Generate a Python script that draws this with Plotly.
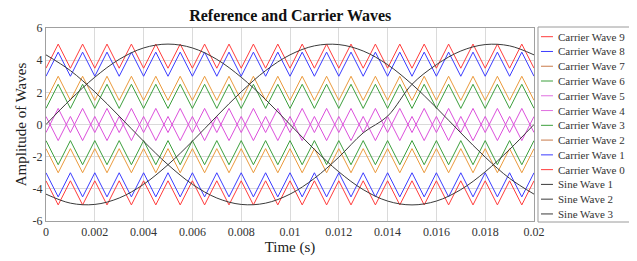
import plotly.graph_objects as go

# ---------------- data ----------------
carrier_names = ["Carrier Wave 9", "Carrier Wave 8", "Carrier Wave 7", "Carrier Wave 6",
                 "Carrier Wave 5", "Carrier Wave 4", "Carrier Wave 3", "Carrier Wave 2",
                 "Carrier Wave 1", "Carrier Wave 0"]
# value at t=0 and value half a carrier period later (triangle vertices)
carrier_start = [3.5, 3.0, 1.5, 1.0, -0.5, 0.5, -1.0, -1.5, -3.0, -3.5]
carrier_turn = [5.0, 4.5, 3.0, 2.5, 1.0, -1.0, -2.5, -3.0, -4.5, -5.0]
carrier_half_period = 0.0005
n_vertices = 41

sine_names = ["Sine Wave 1", "Sine Wave 2", "Sine Wave 3"]
sine_t = [0.000, 0.001, 0.002, 0.003, 0.004, 0.005, 0.006, 0.007, 0.008, 0.009, 0.010,
          0.011, 0.012, 0.013, 0.014, 0.015, 0.016, 0.017, 0.018, 0.019, 0.020]
sine_1 = [0, 1.55, 2.94, 4.05, 4.76, 5.0, 4.76, 4.05, 2.94, 1.55, 0,
          -1.55, -2.94, -4.05, -4.76, -5.0, -4.76, -4.05, -2.94, -1.55, 0]
sine_2 = [-4.33, -4.89, -4.97, -4.57, -3.72, -2.5, -1.04, 0.52, 2.03, 3.35, 4.33,
          4.89, 4.97, 4.57, 3.72, 2.5, 1.04, -0.52, -2.03, -3.35, -4.33]
sine_3 = [4.33, 3.35, 2.03, 0.52, -1.04, -2.5, -3.72, -4.57, -4.97, -4.89, -4.33,
          -3.35, -2.03, -0.52, 0.52, 2.5, 3.72, 4.57, 4.97, 4.89, 4.33]
sine_values = [sine_1, sine_2, sine_3]

x_ticks = [0, 0.002, 0.004, 0.006, 0.008, 0.01, 0.012, 0.014, 0.016, 0.018, 0.02]
x_tick_text = ["0", "0.002", "0.004", "0.006", "0.008", "0.01", "0.012", "0.014", "0.016", "0.018", "0.02"]
y_ticks = [-6, -4, -2, 0, 2, 4, 6]
y_tick_text = ["-6", "-4", "-2", "0", "2", "4", "6"]

# ---------------- styles ----------------
RED, BLUE, ORANGE, GREEN, MAGENTA = "#ff3c3c", "#3c3cff", "#eb9a3c", "#3c9f3c", "#dc50dc"
carrier_colors = [RED, BLUE, ORANGE, GREEN, MAGENTA, MAGENTA, GREEN, ORANGE, BLUE, RED]
legend_colors = [RED, BLUE, "#c97a4a", GREEN, "#e070e0", "#e070e0", GREEN, "#c97a4a", BLUE, RED]
SINE_COLOR = "#3a3a3a"
FONT = "Liberation Serif"

# the page body adds an 8px offset; figure sized to fit the 637x261 window
OFF = 8
PAGE_W, PAGE_H = 637, 261
W, H = PAGE_W - OFF, PAGE_H - OFF
# plot-area edges in page pixels
PX_LEFT, PX_RIGHT, PX_TOP, PX_BOTTOM = 46, 534.5, 28, 221
L = PX_LEFT - OFF
R = W - (PX_RIGHT - OFF)
T = PX_TOP - OFF
B = H - (PX_BOTTOM - OFF)

fig = go.Figure()

carrier_t = [k * carrier_half_period for k in range(n_vertices)]
for name, s, p, c in zip(carrier_names, carrier_start, carrier_turn, carrier_colors):
    vals = [s if k % 2 == 0 else p for k in range(n_vertices)]
    fig.add_trace(go.Scatter(x=carrier_t, y=vals, mode="lines", name=name,
                             line=dict(color=c, width=1), showlegend=False))

for name, vals in zip(sine_names, sine_values):
    fig.add_trace(go.Scatter(x=sine_t, y=vals, mode="lines", name=name,
                             line=dict(color=SINE_COLOR, width=1, shape="spline"),
                             showlegend=False))

# ---------------- manual legend ----------------
plot_w = PX_RIGHT - PX_LEFT
plot_h = PX_BOTTOM - PX_TOP


def px_to_paper_x(px):
    return (px - PX_LEFT) / plot_w


def px_to_paper_y(py):
    return (PX_BOTTOM - py) / plot_h


shapes = []
annotations = []
shapes.append(dict(type="rect", xref="paper", yref="paper",
                   x0=px_to_paper_x(538.5), x1=px_to_paper_x(633),
                   y0=px_to_paper_y(222), y1=px_to_paper_y(27),
                   line=dict(color="#9a9a9a", width=1), fillcolor="white", layer="above"))

all_names = carrier_names + sine_names
all_colors = legend_colors + [SINE_COLOR] * 3
row0, row_step = 36.7, 14.77
for i, (nm, col) in enumerate(zip(all_names, all_colors)):
    yy = px_to_paper_y(row0 + row_step * i)
    shapes.append(dict(type="line", xref="paper", yref="paper",
                       x0=px_to_paper_x(541.5), x1=px_to_paper_x(553.5), y0=yy, y1=yy,
                       line=dict(color=col, width=1), layer="above"))
    annotations.append(dict(xref="paper", yref="paper", x=px_to_paper_x(557), y=yy,
                            text=nm, showarrow=False, xanchor="left", yanchor="middle",
                            font=dict(family=FONT, size=11, color="#333333")))

fig.update_layout(
    width=W, height=H,
    margin=dict(l=L, r=R, t=T, b=B, autoexpand=False),
    paper_bgcolor="white", plot_bgcolor="white",
    title=dict(text="<b>Reference and Carrier Waves</b>",
               x=((PX_LEFT + PX_RIGHT) / 2 - OFF) / W, xanchor="center",
               y=1 - (15 - OFF) / H, yanchor="middle",
               font=dict(family=FONT, size=16, color="#111111")),
    showlegend=False,
    shapes=shapes,
    annotations=annotations,
    font=dict(family=FONT),
)
fig.update_xaxes(range=[0, 0.02], tickvals=x_ticks, ticktext=x_tick_text, automargin=False,
                 showgrid=True, gridcolor="#dadada", gridwidth=1,
                 showline=True, linecolor="#a0a0a0", linewidth=1, mirror=True,
                 zeroline=False, ticks="",
                 tickfont=dict(family=FONT, size=12, color="#333333"),
                 title=dict(text="Time (s)", standoff=0,
                            font=dict(family=FONT, size=15, color="#222222")))
fig.update_yaxes(range=[-6, 6], tickvals=y_ticks, ticktext=y_tick_text, automargin=False,
                 showgrid=True, gridcolor="#dadada", gridwidth=1,
                 showline=True, linecolor="#a0a0a0", linewidth=1, mirror=True,
                 zeroline=False, ticks="",
                 tickfont=dict(family=FONT, size=12, color="#333333"),
                 title=dict(text="Amplitude of Waves", standoff=2,
                            font=dict(family=FONT, size=15, color="#222222")))

fig.write_html("out.html")
